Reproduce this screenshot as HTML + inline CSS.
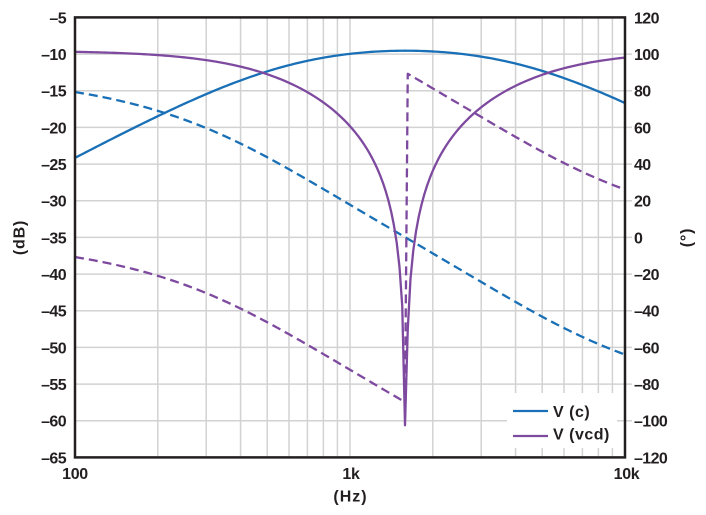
<!DOCTYPE html>
<html>
<head>
<meta charset="utf-8">
<style>
  html,body{margin:0;padding:0;background:#fff;}
  svg{display:block;}
  text{font-family:"Liberation Sans",Arial,sans-serif;font-weight:bold;fill:#231f20;}
</style>
</head>
<body>
<svg id="chart" width="706" height="515" viewBox="0 0 706 515" xmlns="http://www.w3.org/2000/svg">
  <rect x="0" y="0" width="706" height="515" fill="#fff"/>
  <g id="grid" stroke="#d2d2d2" stroke-width="1.5" fill="none"></g>
  <g id="curves" fill="none" stroke-width="2.3" stroke-linejoin="round">
    <path id="pc" stroke="#1a70b6"/>
    <path id="pcd" stroke="#1a70b6" stroke-dasharray="9 5"/>
    <path id="pd" stroke="#7e4a9f"/>
    <path id="pdd" stroke="#7e4a9f" stroke-dasharray="9 5"/>
  </g>
  <!-- legend -->
  <rect x="507" y="393" width="110" height="55" fill="#fff"/>
  <line x1="513" y1="411" x2="548" y2="411" stroke="#1a70b6" stroke-width="2.3"/>
  <line x1="513" y1="436" x2="548" y2="436" stroke="#7e4a9f" stroke-width="2.3"/>
  <text x="553" y="417" font-size="16" letter-spacing="0.5">V (c)</text>
  <text x="553" y="439.5" font-size="16" letter-spacing="0.5">V (vcd)</text>
  <!-- frame -->
  <rect x="75" y="17.4" width="550" height="440" fill="none" stroke="#231f20" stroke-width="2.5"/>
  <!-- left ticks -->
  <g font-size="16" text-anchor="end" letter-spacing="-0.6">
    <text x="66" y="23.4">–5</text>
    <text x="66" y="60.1">–10</text>
    <text x="66" y="96.7">–15</text>
    <text x="66" y="133.4">–20</text>
    <text x="66" y="170.1">–25</text>
    <text x="66" y="206.7">–30</text>
    <text x="66" y="243.4">–35</text>
    <text x="66" y="280.1">–40</text>
    <text x="66" y="316.7">–45</text>
    <text x="66" y="353.4">–50</text>
    <text x="66" y="390.1">–55</text>
    <text x="66" y="426.7">–60</text>
    <text x="66" y="463.4">–65</text>
  </g>
  <!-- right ticks -->
  <g font-size="16" text-anchor="start" letter-spacing="-0.6">
    <text x="634" y="23.4">120</text>
    <text x="634" y="60.1">100</text>
    <text x="634" y="96.7">80</text>
    <text x="634" y="133.4">60</text>
    <text x="634" y="170.1">40</text>
    <text x="634" y="206.7">20</text>
    <text x="634" y="243.4">0</text>
    <text x="634" y="280.1">–20</text>
    <text x="634" y="316.7">–40</text>
    <text x="634" y="353.4">–60</text>
    <text x="634" y="390.1">–80</text>
    <text x="634" y="426.7">–100</text>
    <text x="634" y="463.4">–120</text>
  </g>
  <!-- bottom ticks -->
  <g font-size="16" text-anchor="middle" letter-spacing="-0.3">
    <text x="75" y="479">100</text>
    <text x="351" y="479">1k</text>
    <text x="626.5" y="479">10k</text>
  </g>
  <text x="350.5" y="501.5" font-size="16" text-anchor="middle" letter-spacing="1">(Hz)</text>
  <text transform="translate(24.5,237.5) rotate(-90)" font-size="16" text-anchor="middle" letter-spacing="0.8">(dB)</text>
  <text transform="translate(691.5,237.5) rotate(-90)" font-size="16" text-anchor="middle" letter-spacing="0.8">(°)</text>
</svg>
<script>
(function(){
  var NS="http://www.w3.org/2000/svg";
  var X=function(f){return 75+275*(Math.log10(f)-2);};
  var Yd=function(d){return 17.4+(-5-d)*440/60;};
  var Yp=function(p){return 17.4+(120-p)*440/240;};
  var g=document.getElementById("grid");
  function line(x1,y1,x2,y2){
    var l=document.createElementNS(NS,"line");
    l.setAttribute("x1",x1);l.setAttribute("y1",y1);
    l.setAttribute("x2",x2);l.setAttribute("y2",y2);
    g.appendChild(l);
  }
  // vertical grid
  [100,1000].forEach(function(base){
    for(var k=2;k<=9;k++){var x=X(base*k);line(x,17.4,x,457.4);}
  });
  line(X(1000),17.4,X(1000),457.4);
  // horizontal grid (extends a little past right frame)
  for(var d=-10;d>=-60;d-=5){var y=Yd(d);line(75,y,632,y);}
  // curves
  var f0=1591.55;
  var pc=[],pcd=[],pd=[],pdd=[];
  for(var k=0;k<=200;k++){
    var f=Math.pow(10,2+k/100), x=f/f0;
    var re=1-x*x, im=3*x, den=Math.sqrt(re*re+im*im);
    var ang=Math.atan2(im,re)*180/Math.PI;
    var magC=20*Math.log10(x/den);
    var phC=90-ang;
    var magD=20*Math.log10(Math.abs(re)/den/3);
    if(magD<-60.8) magD=-60.8;
    var phD= re>0 ? -ang : 180-ang;
    var xx=X(f).toFixed(2);
    pc.push(xx+","+Yd(magC).toFixed(2));
    pcd.push(xx+","+Yp(phC).toFixed(2));
    pd.push(xx+","+Yd(magD).toFixed(2));
    pdd.push(xx+","+Yp(phD).toFixed(2));
  }
  document.getElementById("pc").setAttribute("d","M"+pc.join("L"));
  document.getElementById("pcd").setAttribute("d","M"+pcd.join("L"));
  document.getElementById("pd").setAttribute("d","M"+pd.join("L"));
  document.getElementById("pdd").setAttribute("d","M"+pdd.join("L"));
})();
</script>
</body>
</html>
